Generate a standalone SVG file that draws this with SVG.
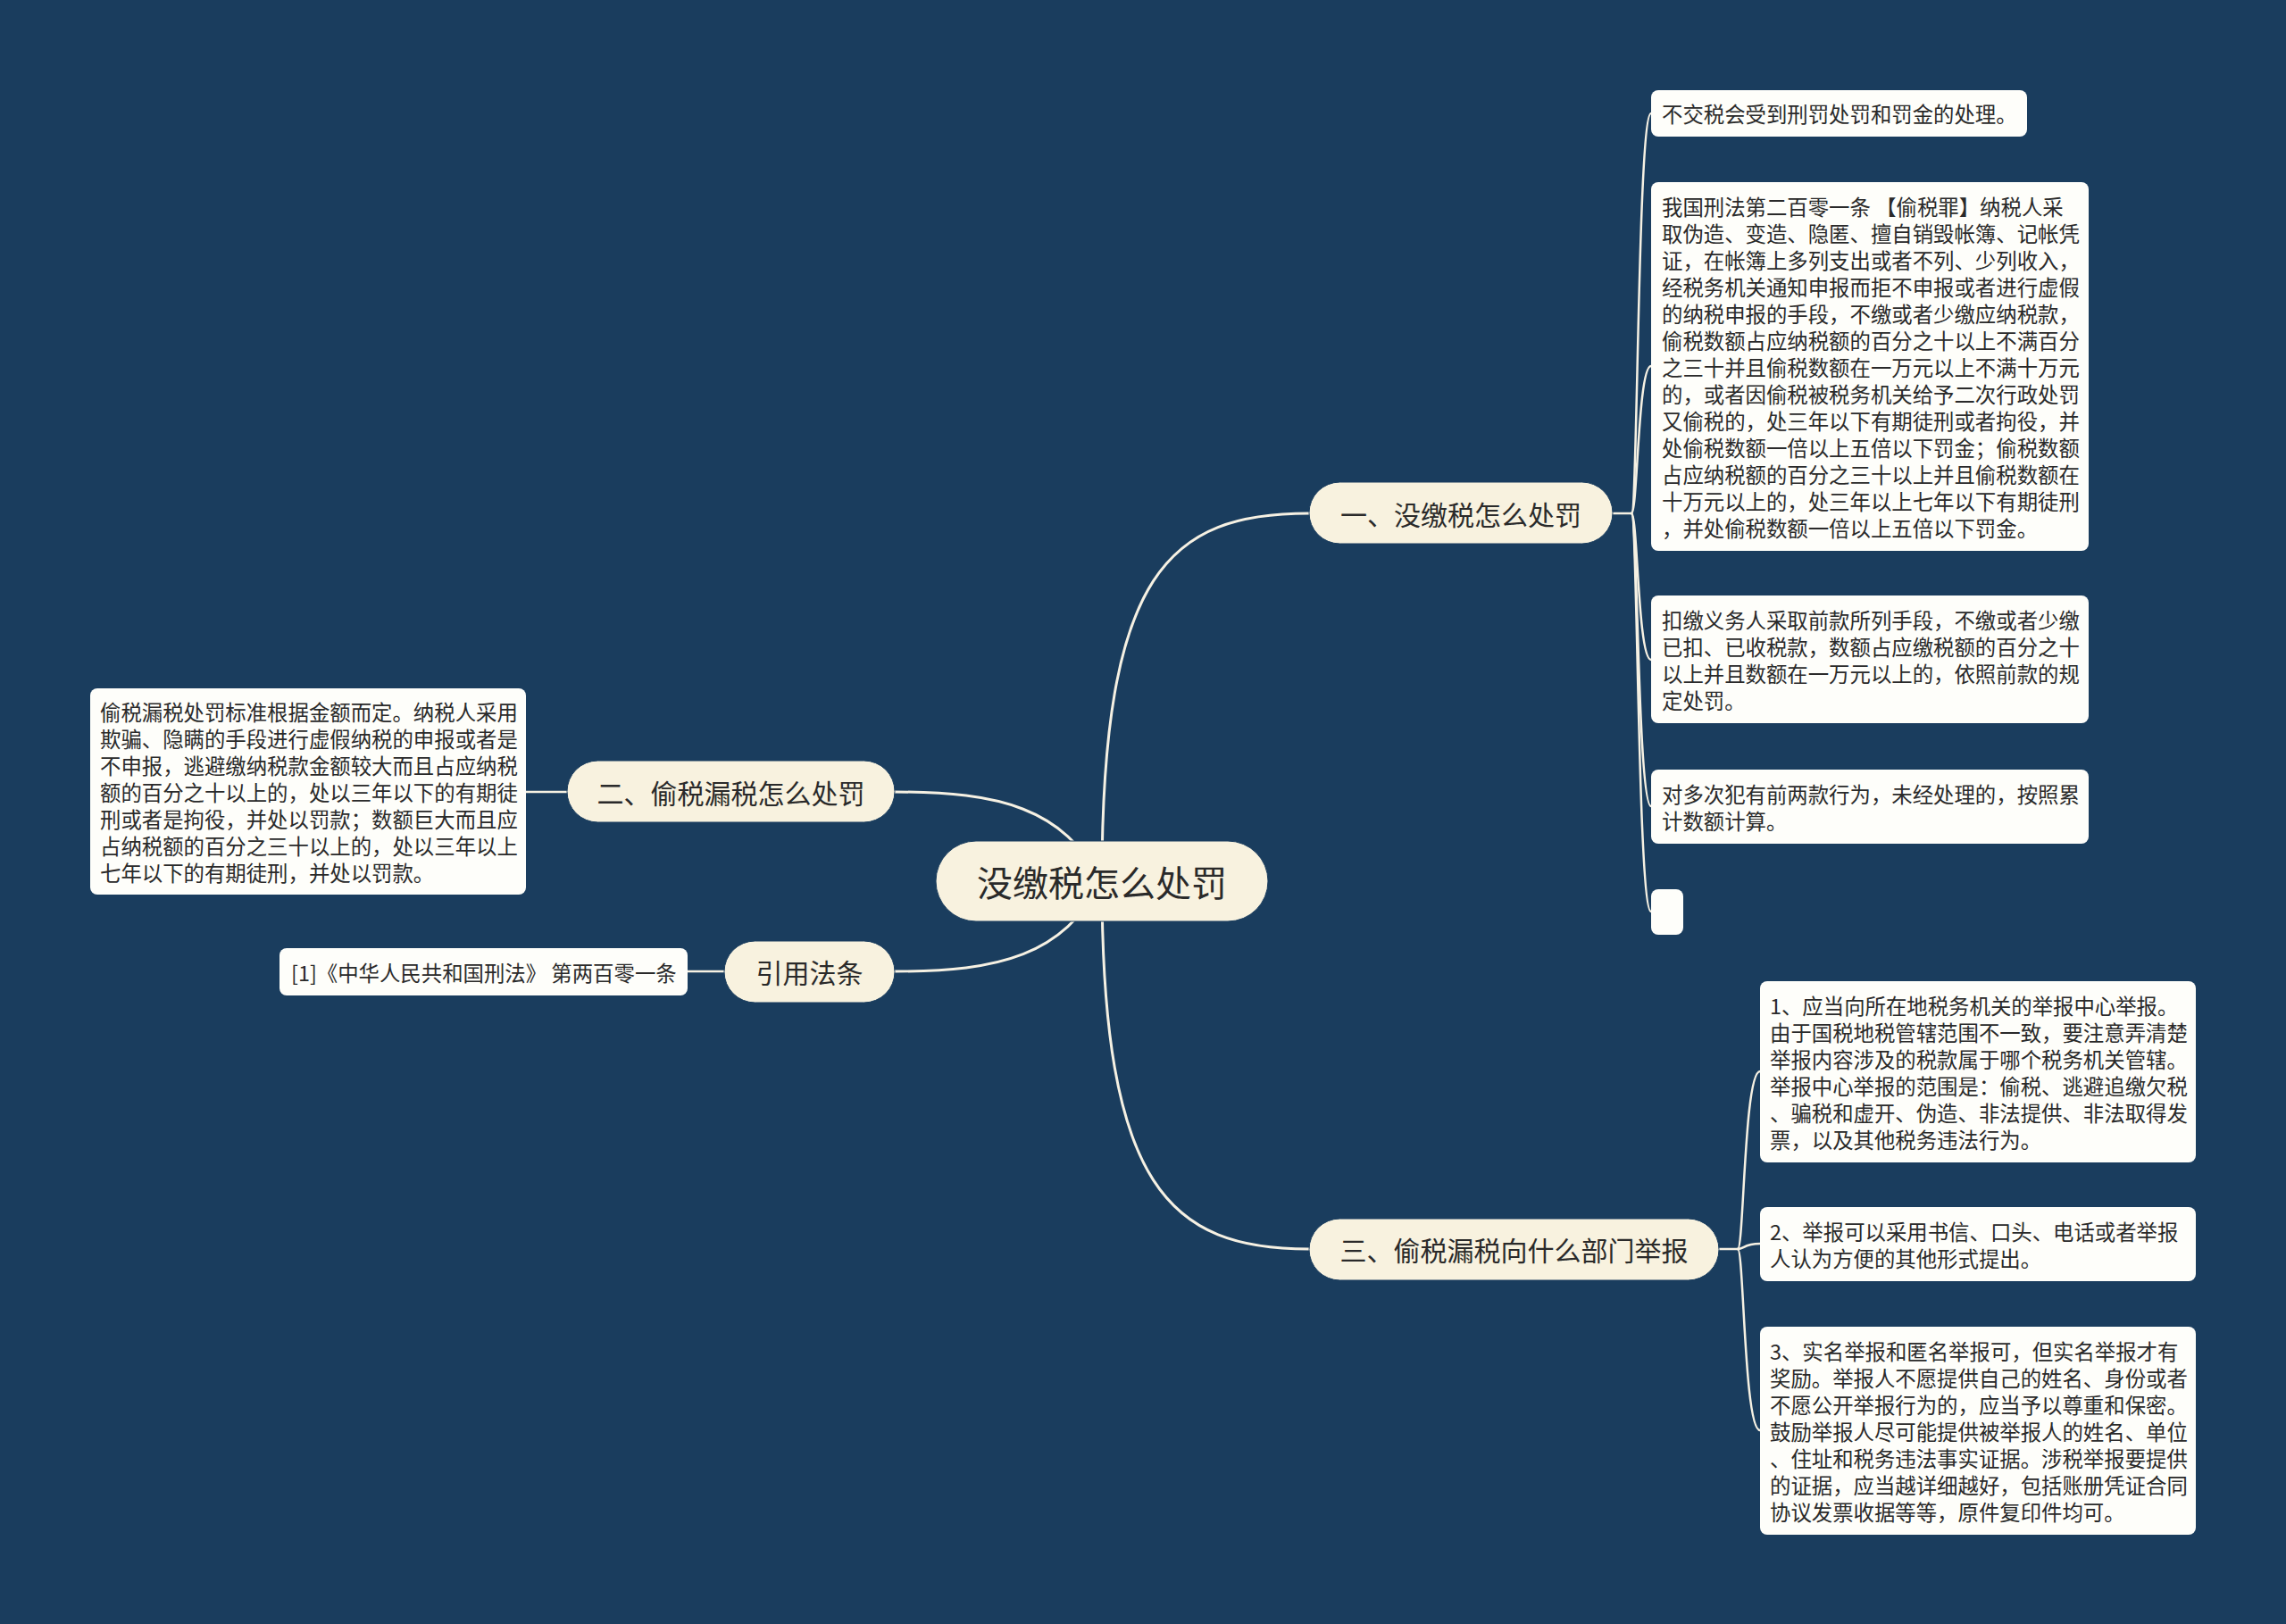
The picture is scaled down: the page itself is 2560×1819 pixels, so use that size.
<svg xmlns="http://www.w3.org/2000/svg" width="2560" height="1819" viewBox="0 0 2560 1819">
<style>
.bg{fill:#1A3D5E}
.pill{fill:#F8F2DF;stroke:#1A3D5E;stroke-width:1}
.box{fill:#FEFEFA}
.t{font-family:"Noto Sans CJK SC","Noto Sans",sans-serif;fill:#2A2A2A;dominant-baseline:central}
.s{font-size:23.4px}
.m{font-size:30px;text-anchor:middle}
.c{font-size:40px;text-anchor:middle}
.ln{fill:none;stroke:#F6F1E3;stroke-width:3;stroke-linecap:round}
.br{fill:none;stroke:#F6F1E3;stroke-width:2.5;stroke-linecap:round}
</style>
<rect class="bg" x="0" y="0" width="2560" height="1819"/>
<g id="connectors">
<path class="ln" d="M1234,987 C1234,640 1310,575 1466,575"/>
<path class="ln" d="M1234,987 C1234,1330 1310,1399 1466,1399"/>
<path class="ln" d="M1234,987 C1190,905 1120,887 1002,887"/>
<path class="ln" d="M1234,987 C1190,1070 1120,1088 1002,1088"/>
<path class="br" d="M1002,887 L589,887"/>
<path class="br" d="M811,1088 L770,1088"/>
<path class="br" d="M1806,575 L1827,575"/>
<path class="br" d="M1827,575 C1834,575 1834,127 1849,127"/>
<path class="br" d="M1827,575 C1834,575 1834,410 1849,410"/>
<path class="br" d="M1827,575 C1834,575 1834,739 1849,739"/>
<path class="br" d="M1827,575 C1834,575 1834,903 1849,903"/>
<path class="br" d="M1827,575 C1834,575 1834,1021 1849,1021"/>
<path class="br" d="M1925,1399 L1946,1399"/>
<path class="br" d="M1946,1399 C1953,1399 1953,1200 1971,1200"/>
<path class="br" d="M1946,1399 C1953,1399 1953,1393 1971,1393"/>
<path class="br" d="M1946,1399 C1953,1399 1953,1602 1971,1602"/>
</g>
<g id="root">
<rect class="pill" x="1048" y="942" width="372" height="90" rx="45"/>
<text class="t c" x="1234" y="987">没缴税怎么处罚</text>
</g>
<g id="n1">
<rect class="pill" x="1466" y="540" width="340" height="69" rx="34.5"/>
<text class="t m" x="1636" y="575">一、没缴税怎么处罚</text>
</g>
<g id="n2">
<rect class="pill" x="635" y="852" width="367" height="69" rx="34.5"/>
<text class="t m" x="818.5" y="887">二、偷税漏税怎么处罚</text>
</g>
<g id="n3">
<rect class="pill" x="811" y="1054" width="191" height="69" rx="34.5"/>
<text class="t m" x="906.5" y="1088">引用法条</text>
</g>
<g id="n4">
<rect class="pill" x="1466" y="1365" width="459" height="69" rx="34.5"/>
<text class="t m" x="1695.5" y="1399">三、偷税漏税向什么部门举报</text>
</g>
<g id="n1a">
<rect class="box" x="1849" y="101" width="421" height="52" rx="8"/>
<text class="t s" x="1861" y="127">不交税会受到刑罚处罚和罚金的处理。</text>
</g>
<g id="n1b">
<rect class="box" x="1849" y="204" width="490" height="413" rx="8"/>
<text class="t s" x="1861">
<tspan x="1861" y="231">我国刑法第二百零一条 【偷税罪】纳税人采</tspan>
<tspan x="1861" y="261">取伪造、变造、隐匿、擅自销毁帐簿、记帐凭</tspan>
<tspan x="1861" y="291">证，在帐簿上多列支出或者不列、少列收入，</tspan>
<tspan x="1861" y="321">经税务机关通知申报而拒不申报或者进行虚假</tspan>
<tspan x="1861" y="351">的纳税申报的手段，不缴或者少缴应纳税款，</tspan>
<tspan x="1861" y="381">偷税数额占应纳税额的百分之十以上不满百分</tspan>
<tspan x="1861" y="411">之三十并且偷税数额在一万元以上不满十万元</tspan>
<tspan x="1861" y="441">的，或者因偷税被税务机关给予二次行政处罚</tspan>
<tspan x="1861" y="471">又偷税的，处三年以下有期徒刑或者拘役，并</tspan>
<tspan x="1861" y="501">处偷税数额一倍以上五倍以下罚金；偷税数额</tspan>
<tspan x="1861" y="531">占应纳税额的百分之三十以上并且偷税数额在</tspan>
<tspan x="1861" y="561">十万元以上的，处三年以上七年以下有期徒刑</tspan>
<tspan x="1861" y="591">，并处偷税数额一倍以上五倍以下罚金。</tspan>
</text>
</g>
<g id="n1c">
<rect class="box" x="1849" y="667" width="490" height="143" rx="8"/>
<text class="t s">
<tspan x="1861" y="694">扣缴义务人采取前款所列手段，不缴或者少缴</tspan>
<tspan x="1861" y="724">已扣、已收税款，数额占应缴税额的百分之十</tspan>
<tspan x="1861" y="754">以上并且数额在一万元以上的，依照前款的规</tspan>
<tspan x="1861" y="784">定处罚。</tspan>
</text>
</g>
<g id="n1d">
<rect class="box" x="1849" y="862" width="490" height="83" rx="8"/>
<text class="t s">
<tspan x="1861" y="889">对多次犯有前两款行为，未经处理的，按照累</tspan>
<tspan x="1861" y="919">计数额计算。</tspan>
</text>
</g>
<g id="n1e">
<rect class="box" x="1849" y="996" width="36" height="51" rx="8"/>
</g>
<g id="n2a">
<rect class="box" x="101" y="771" width="488" height="231" rx="8"/>
<text class="t s">
<tspan x="112" y="797">偷税漏税处罚标准根据金额而定。纳税人采用</tspan>
<tspan x="112" y="827">欺骗、隐瞒的手段进行虚假纳税的申报或者是</tspan>
<tspan x="112" y="857">不申报，逃避缴纳税款金额较大而且占应纳税</tspan>
<tspan x="112" y="887">额的百分之十以上的，处以三年以下的有期徒</tspan>
<tspan x="112" y="917">刑或者是拘役，并处以罚款；数额巨大而且应</tspan>
<tspan x="112" y="947">占纳税额的百分之三十以上的，处以三年以上</tspan>
<tspan x="112" y="977">七年以下的有期徒刑，并处以罚款。</tspan>
</text>
</g>
<g id="n3a">
<rect class="box" x="313" y="1062" width="457" height="53" rx="8"/>
<text class="t s" x="326" y="1089">[1]《中华人民共和国刑法》 第两百零一条</text>
</g>
<g id="n4a">
<rect class="box" x="1971" y="1099" width="488" height="203" rx="8"/>
<text class="t s">
<tspan x="1982" y="1126">1、应当向所在地税务机关的举报中心举报。</tspan>
<tspan x="1982" y="1156">由于国税地税管辖范围不一致，要注意弄清楚</tspan>
<tspan x="1982" y="1186">举报内容涉及的税款属于哪个税务机关管辖。</tspan>
<tspan x="1982" y="1216">举报中心举报的范围是：偷税、逃避追缴欠税</tspan>
<tspan x="1982" y="1246">、骗税和虚开、伪造、非法提供、非法取得发</tspan>
<tspan x="1982" y="1276">票，以及其他税务违法行为。</tspan>
</text>
</g>
<g id="n4b">
<rect class="box" x="1971" y="1352" width="488" height="83" rx="8"/>
<text class="t s">
<tspan x="1982" y="1379">2、举报可以采用书信、口头、电话或者举报</tspan>
<tspan x="1982" y="1409">人认为方便的其他形式提出。</tspan>
</text>
</g>
<g id="n4c">
<rect class="box" x="1971" y="1486" width="488" height="233" rx="8"/>
<text class="t s">
<tspan x="1982" y="1513">3、实名举报和匿名举报可，但实名举报才有</tspan>
<tspan x="1982" y="1543">奖励。举报人不愿提供自己的姓名、身份或者</tspan>
<tspan x="1982" y="1573">不愿公开举报行为的，应当予以尊重和保密。</tspan>
<tspan x="1982" y="1603">鼓励举报人尽可能提供被举报人的姓名、单位</tspan>
<tspan x="1982" y="1633">、住址和税务违法事实证据。涉税举报要提供</tspan>
<tspan x="1982" y="1663">的证据，应当越详细越好，包括账册凭证合同</tspan>
<tspan x="1982" y="1693">协议发票收据等等，原件复印件均可。</tspan>
</text>
</g>
</svg>
